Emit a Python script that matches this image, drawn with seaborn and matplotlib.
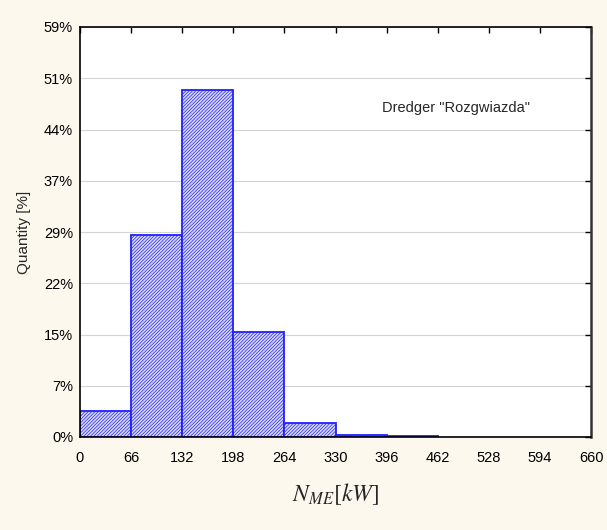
import numpy as np
import matplotlib
matplotlib.use("Agg")
import matplotlib.pyplot as plt
import seaborn as sns

# bin edges of N_ME [kW] and share of each bin [%]
bin_edges = [0, 66, 132, 198, 264, 330, 396, 462, 528, 594, 660]
share_pct = [3.8, 29.0, 49.7, 15.1, 2.0, 0.3, 0.1, 0.0, 0.0, 0.0]
y_tick_labels = ["0%", "7%", "15%", "22%", "29%", "37%", "44%", "51%", "59%"]
y_max = 58.8

sns.set_style("white")
plt.rcParams['font.family'] = ['Liberation Sans', 'DejaVu Sans']

bg = '#fdf8ee'
fig = plt.figure(figsize=(6.07, 5.30), dpi=100, facecolor=bg)
ax = fig.add_axes([80 / 607, 1 - 437 / 530, (591 - 80) / 607, (437 - 27) / 530])
ax.set_facecolor('white')

centers = [(a + b) / 2 for a, b in zip(bin_edges[:-1], bin_edges[1:])]
plt.rcParams['hatch.linewidth'] = 0.5
plt.rcParams['hatch.color'] = '#5050f2'
sns.histplot(x=centers, weights=share_pct, bins=bin_edges, ax=ax,
             color='#d8d8fb', edgecolor='#2020ff', linewidth=1.3, alpha=1)
for p in ax.patches:
    p.set_hatch('//////////')
    p.set_facecolor('#d8d8fb')
    p.set_edgecolor('#2020ff')
    if p.get_height() <= 0:
        p.set_visible(False)

# grid lines at y ticks
yticks = np.linspace(0, y_max, len(y_tick_labels))
ax.set_yticks(yticks)
ax.set_yticklabels(y_tick_labels)
ax.set_xticks(bin_edges)
ax.set_xticklabels([str(v) for v in bin_edges])
ax.set_xlim(bin_edges[0], bin_edges[-1])
ax.set_ylim(0, y_max)
ax.yaxis.grid(True, color='#d4d4d4', linestyle='-', linewidth=0.8)
ax.set_axisbelow(True)

ax.tick_params(direction='in', length=4, width=1, top=True, right=True,
               labelsize=10.5, colors='black', pad=5)
ax.tick_params(axis='x', pad=10)
for s in ax.spines.values():
    s.set_color('black')
    s.set_linewidth(1.2)
ax.spines['right'].set_color('#333333')
ax.spines['right'].set_linewidth(1.8)

ax.set_ylabel('Quantity [%]', fontsize=11, labelpad=9)
ax.set_xlabel(r'$N_{ME}[kW]$', fontsize=17, labelpad=12,
              math_fontfamily='stix')

ax.text(390, 47.2, 'Dredger "Rozgwiazda"', fontsize=10.5, va='center', ha='left')

plt.savefig('out.png', dpi=100, facecolor=bg)
